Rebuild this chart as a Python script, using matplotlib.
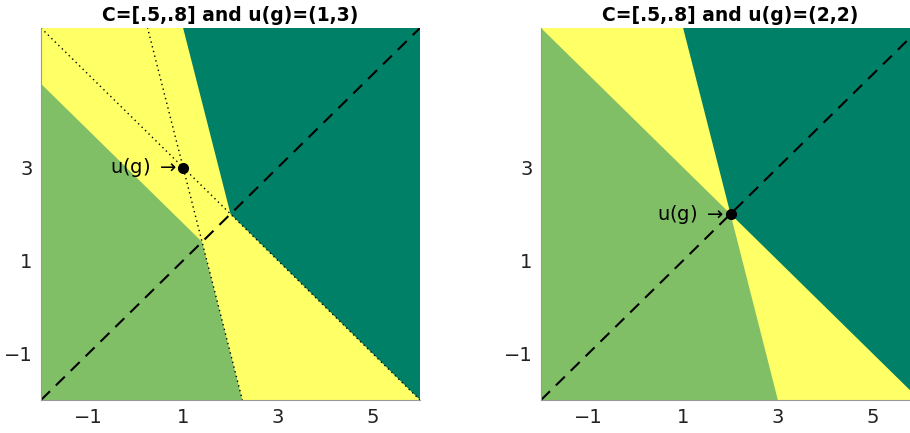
import numpy as np
import matplotlib
matplotlib.use("Agg")
import matplotlib.pyplot as plt

# weights c in C, applied as c*x + (1-c)*y
C = [0.5, 0.8]
u_points = [(1, 3), (2, 2)]
show_dotted = [True, False]
lims = (-2, 6)
xticks = [-1, 1, 3, 5]
yticks = [-1, 1, 3]

dark = "#008066"
mid = "#80bf66"
light = "#ffff66"


def clip(poly, a, b):
    # keep part of convex polygon with a . v <= b
    out = []
    n = len(poly)
    for i in range(n):
        p, q = np.array(poly[i]), np.array(poly[(i + 1) % n])
        fp, fq = a @ p - b, a @ q - b
        if fp <= 0:
            out.append(p)
        if fp * fq < 0:
            t = fp / (fp - fq)
            out.append(p + t * (q - p))
    return out


def region(sign, level):
    lo, hi = lims
    poly = [(lo, lo), (hi, lo), (hi, hi), (lo, hi)]
    for c in C:
        w = np.array([c, 1 - c])
        poly = clip(poly, sign * w, sign * level)
    return np.array(poly)


def fmt(v):
    return str(v).replace("-", "\u2212")


fig = plt.figure(figsize=(9.1, 4.33), dpi=100)
positions = [[41 / 910, 33 / 433, 379 / 910, 372 / 433],
             [541 / 910, 33 / 433, 379 / 910, 372 / 433]]

for k, u in enumerate(u_points):
    ax = fig.add_axes(positions[k])
    ax.set_facecolor(light)
    vals = [c * u[0] + (1 - c) * u[1] for c in C]
    hi_poly = region(-1, max(vals))
    lo_poly = region(1, min(vals))
    ax.fill(hi_poly[:, 0], hi_poly[:, 1], color=dark, lw=0)
    ax.fill(lo_poly[:, 0], lo_poly[:, 1], color=mid, lw=0)

    xs = np.array(lims)
    if show_dotted[k]:
        for c, v in zip(C, vals):
            ax.plot(xs, (v - c * xs) / (1 - c), color="black", lw=1,
                    linestyle=(0, (1, 2.5)))
    ax.plot(xs, xs, color="black", lw=1.5, linestyle=(0, (6, 4)))
    ax.plot(u[0], u[1], "o", color="black", markersize=7)
    ax.text(u[0] - 0.12, u[1], "u(g) $\\rightarrow$", ha="right", va="center",
            fontsize=14)

    ax.set_xlim(lims)
    ax.set_ylim(lims)
    ax.set_xticks(xticks)
    ax.set_yticks(yticks)
    ax.set_xticklabels([fmt(t) for t in xticks])
    ax.set_yticklabels([fmt(t) for t in yticks])
    ax.tick_params(length=0, labelsize=14, pad=6, colors="#222222")
    for s in ["top", "right"]:
        ax.spines[s].set_visible(False)
    for s in ["left", "bottom"]:
        ax.spines[s].set_color("#999999")
        ax.spines[s].set_linewidth(0.8)
    ax.set_title(f"C=[.5,.8] and u(g)=({u[0]},{u[1]})", fontsize=13.5,
                 fontweight="bold", pad=5)

fig.savefig("out.png", dpi=100)
